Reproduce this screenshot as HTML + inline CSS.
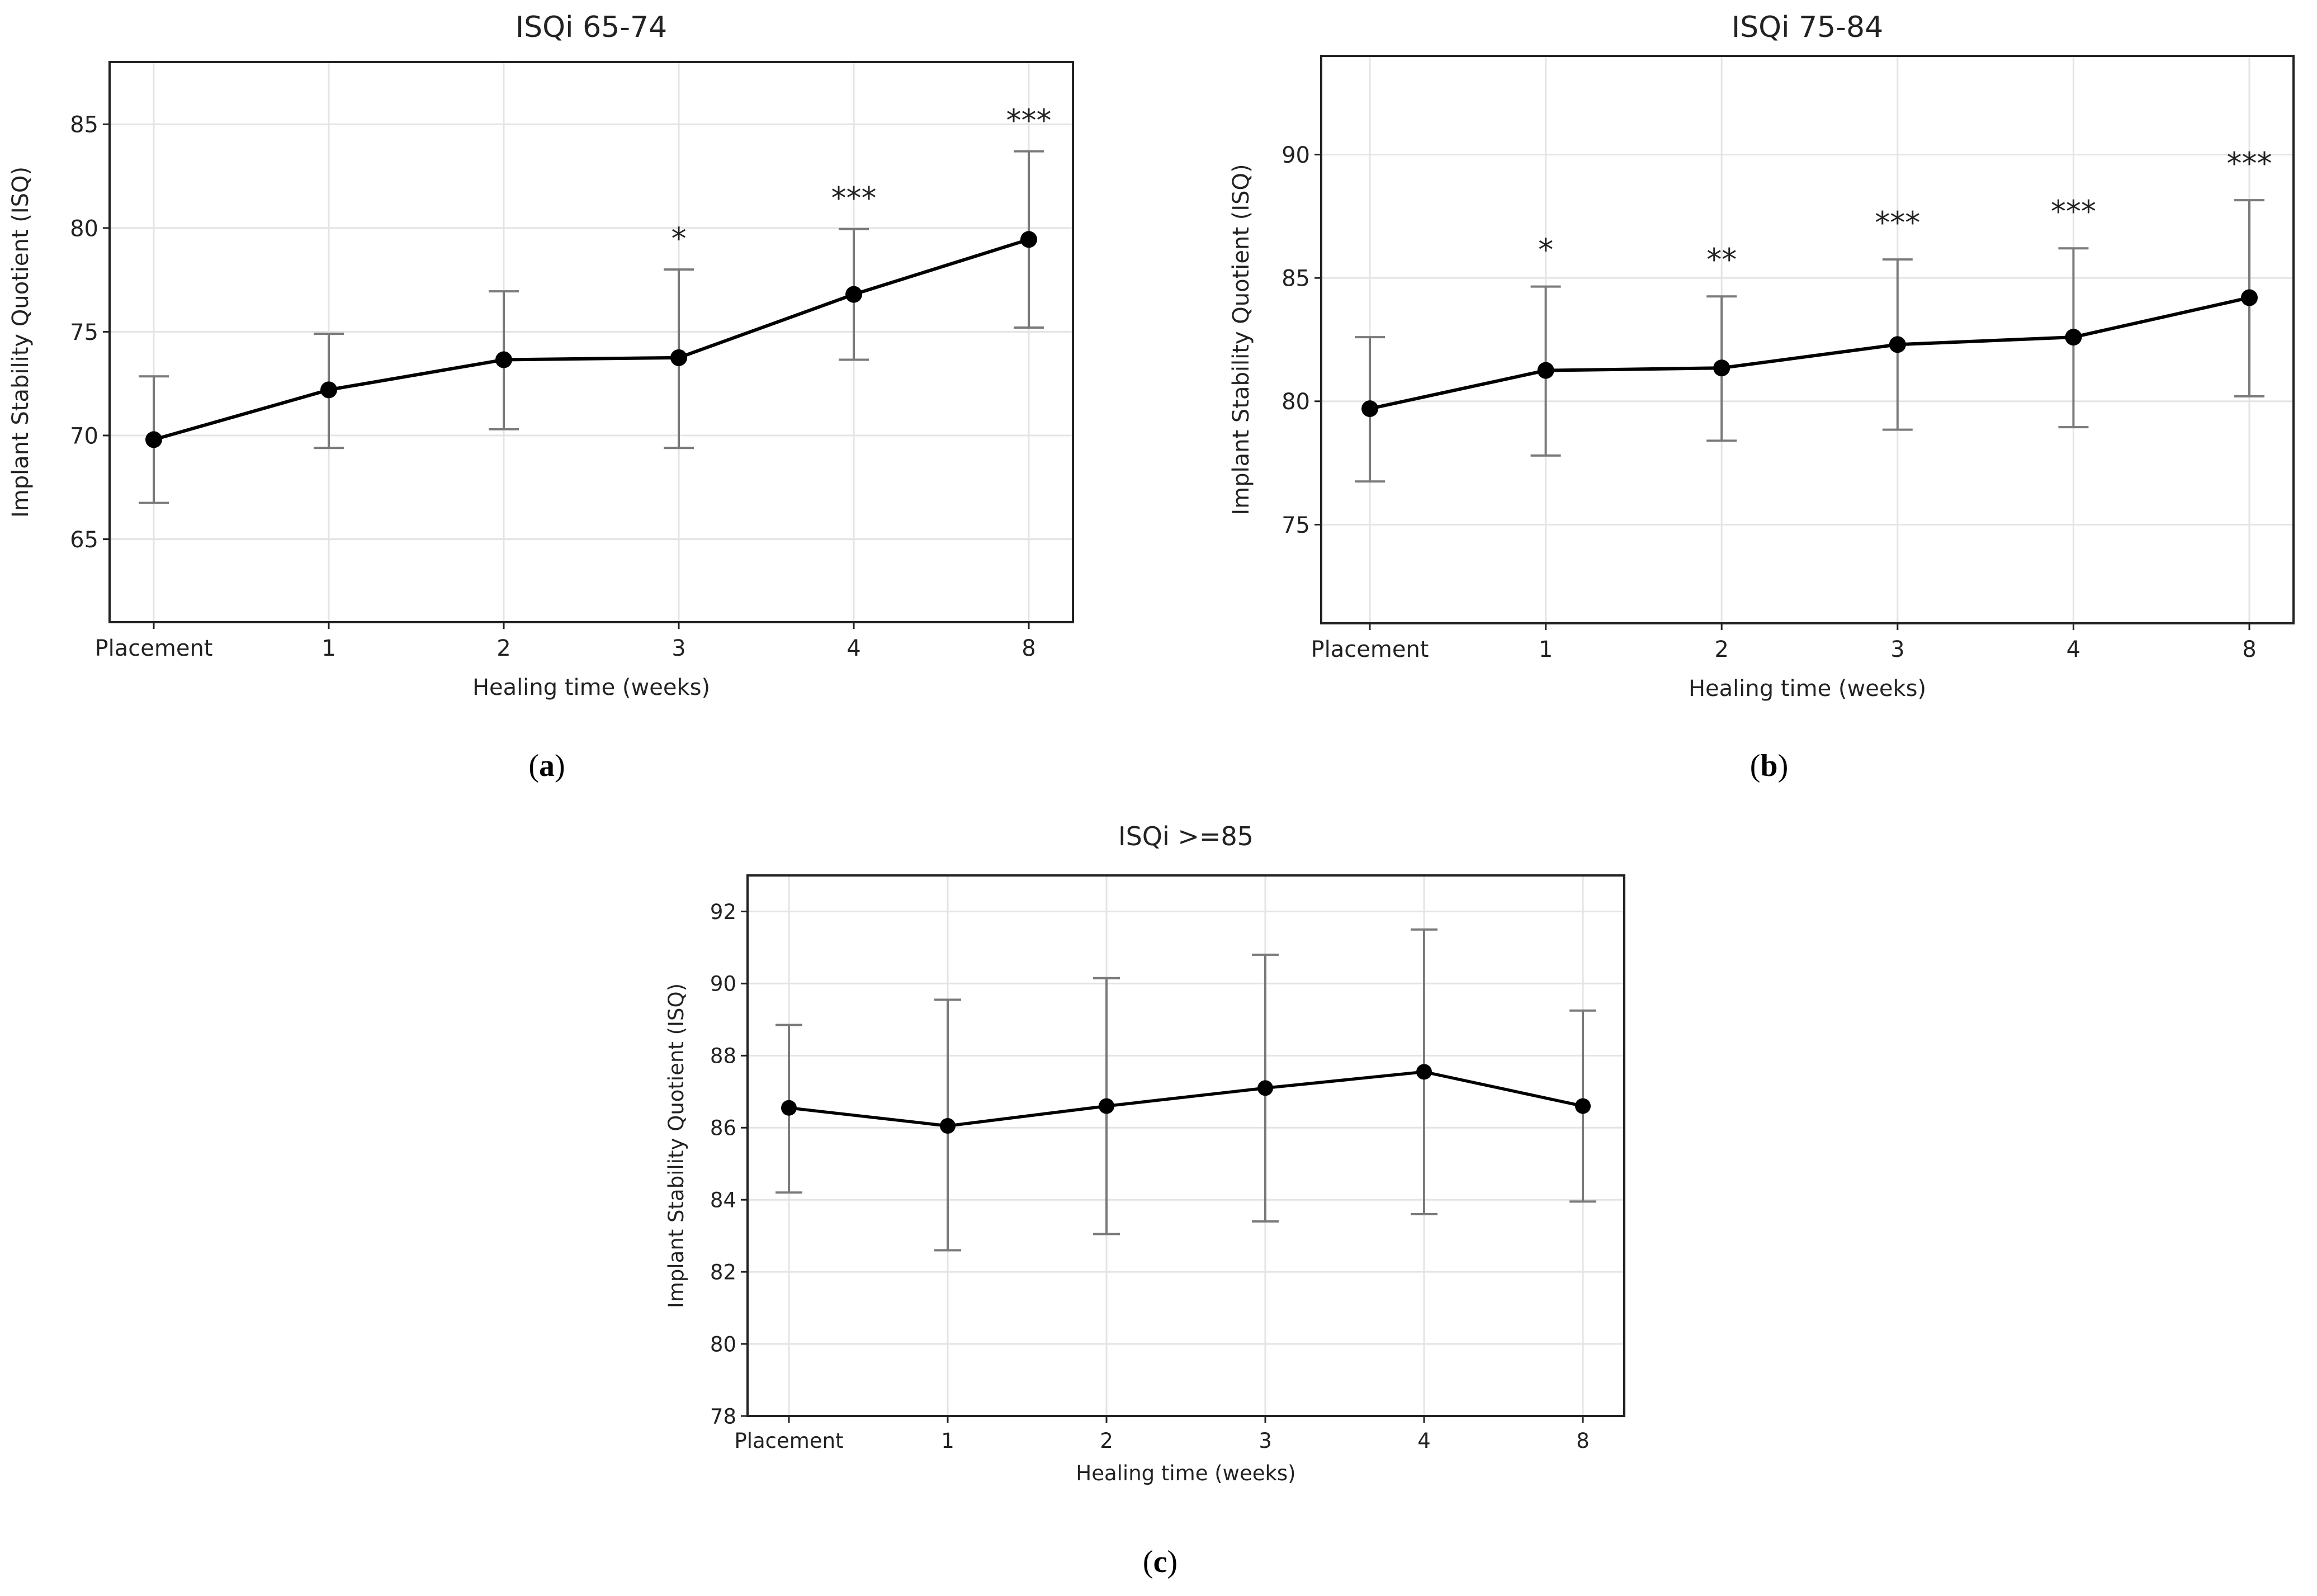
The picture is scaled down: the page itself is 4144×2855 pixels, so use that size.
<!DOCTYPE html>
<html><head><meta charset="utf-8"><style>
html,body{margin:0;padding:0;background:#fff}
svg{display:block}
text{font-family:"DejaVu Sans","Liberation Sans",sans-serif;fill:#222}
.cap{font-family:"Liberation Serif",serif;fill:#000}
</style></head><body>
<svg id="fig" width="4144" height="2855" viewBox="0 0 4144 2855" xmlns="http://www.w3.org/2000/svg"></svg>
<script>
const categories = ["Placement","1","2","3","4","8"];
const meanA = [69.8,72.2,73.65,73.75,76.8,79.45];
const lowA  = [66.75,69.4,70.3,69.4,73.65,75.2];
const highA = [72.85,74.9,76.95,78.0,79.95,83.7];
const starsA = ["","","","*","***","***"];
const ticksA = [65,70,75,80,85];
const meanB = [79.7,81.25,81.35,82.3,82.6,84.2];
const lowB  = [76.75,77.8,78.4,78.85,78.95,80.2];
const highB = [82.6,84.65,84.25,85.75,86.2,88.15];
const starsB = ["","*","**","***","***","***"];
const ticksB = [75,80,85,90];
const meanC = [86.55,86.05,86.6,87.1,87.55,86.6];
const lowC  = [84.2,82.6,83.05,83.4,83.6,83.95];
const highC = [88.85,89.55,90.15,90.8,91.5,89.25];
const starsC = ["","","","","",""];
const ticksC = [78,80,82,84,86,88,90,92];

const NS="http://www.w3.org/2000/svg";
const svg=document.getElementById('fig');
function mk(tag,attrs,parent,txt){const e=document.createElementNS(NS,tag);for(const k in attrs)e.setAttribute(k,attrs[k]);if(txt!==undefined)e.textContent=txt;(parent||svg).appendChild(e);return e;}

function panel(id,cfg,mean,low,high,stars,ticks){
  const g=mk('g',{});
  
  
  const {L,R,T,B,x0,x1,ymin,ymax,fs}=cfg;
  const xs=i=>x0+(x1-x0)*i/(categories.length-1);
  const ys=v=>B-(v-ymin)/(ymax-ymin)*(B-T);
  ticks.forEach(t=>{const l=mk('line',{x1:L,x2:R,y1:ys(t),y2:ys(t),stroke:'#e4e4e4','stroke-width':3},g);
    });
  categories.forEach((c,i)=>{const l=mk('line',{x1:xs(i),x2:xs(i),y1:T,y2:B,stroke:'#e4e4e4','stroke-width':3},g);
    });
  const fr=mk('rect',{x:L,y:T,width:R-L,height:B-T,fill:'none',stroke:'#222','stroke-width':4},g);
  
  ticks.forEach(t=>{
    mk('line',{x1:L-12,x2:L,y1:ys(t),y2:ys(t),stroke:'#222','stroke-width':3},g);
    const tx=mk('text',{x:L-20,y:ys(t)+fs*0.36,'text-anchor':'end','font-size':fs},g,String(t));
    
  });
  categories.forEach((c,i)=>{
    mk('line',{x1:xs(i),x2:xs(i),y1:B,y2:B+12,stroke:'#222','stroke-width':3},g);
    const tx=mk('text',{x:xs(i),y:B+20+fs,'text-anchor':'middle','font-size':fs},g,c);
    
  });
  const cw=cfg.cap;
  categories.forEach((c,i)=>{
    const eb=mk('g',{stroke:'#7a7a7a','stroke-width':4},g);
    
    mk('line',{x1:xs(i),x2:xs(i),y1:ys(low[i]),y2:ys(high[i])},eb);
    mk('line',{x1:xs(i)-cw,x2:xs(i)+cw,y1:ys(low[i]),y2:ys(low[i])},eb);
    mk('line',{x1:xs(i)-cw,x2:xs(i)+cw,y1:ys(high[i]),y2:ys(high[i])},eb);
  });
  const pl=mk('polyline',{points:mean.map((v,i)=>xs(i)+','+ys(v)).join(' '),fill:'none',stroke:'#000','stroke-width':cfg.lw},g);
  
  mean.forEach((v,i)=>{const c=mk('circle',{cx:xs(i),cy:ys(v),r:cfg.r,fill:'#000'},g);
    });
  stars.forEach((s,i)=>{if(!s)return;
    const t=mk('text',{x:xs(i),y:ys(high[i]+cfg.so)+cfg.sf*0.35,'text-anchor':'middle','font-size':cfg.sf,'font-family':'Liberation Sans, sans-serif'},g,s);
    });
  const ti=mk('text',{x:(L+R)/2,y:cfg.ty,'text-anchor':'middle','font-size':cfg.tfs},g,cfg.title);
  
  const xl=mk('text',{x:(L+R)/2,y:cfg.xly,'text-anchor':'middle','font-size':fs},g,'Healing time (weeks)');
  
  const yl=mk('text',{x:0,y:0,'text-anchor':'middle','font-size':fs,transform:`translate(${cfg.ylx},${(T+B)/2}) rotate(-90)`},g,'Implant Stability Quotient (ISQ)');
  
  const cp=mk('text',{x:cfg.capx,y:cfg.capy,'text-anchor':'middle','font-size':56,'class':'cap'},g);
  
  mk('tspan',{},cp,'(');mk('tspan',{'font-weight':'bold'},cp,cfg.letter);mk('tspan',{},cp,')');
}
panel('panel-a',{L:196,R:1919,T:111,B:1113,x0:275,x1:1840,ymin:61,ymax:88,fs:40,tfs:52,sf:54,so:1.5,cap:27,r:15,lw:6,
  title:'ISQi 65-74',ty:66,xly:1243,ylx:50,capx:978,capy:1388,letter:'a'},meanA,lowA,highA,starsA,ticksA);
panel('panel-b',{L:2363,R:4102,T:100,B:1115,x0:2450,x1:4023,ymin:71,ymax:94,fs:40,tfs:52,sf:54,so:1.5,cap:27,r:15,lw:6,
  title:'ISQi 75-84',ty:66,xly:1245,ylx:2233,capx:3164,capy:1388,letter:'b'},meanB,lowB,highB,starsB,ticksB);
panel('panel-c',{L:1337,R:2905,T:1566,B:2533,x0:1411,x1:2831,ymin:78,ymax:93,fs:37,tfs:46,sf:46,so:1.0,cap:24,r:14,lw:5.5,
  title:'ISQi >=85',ty:1512,xly:2648,ylx:1222,capx:2075,capy:2812,letter:'c'},meanC,lowC,highC,starsC,ticksC);
</script>
</body></html>
